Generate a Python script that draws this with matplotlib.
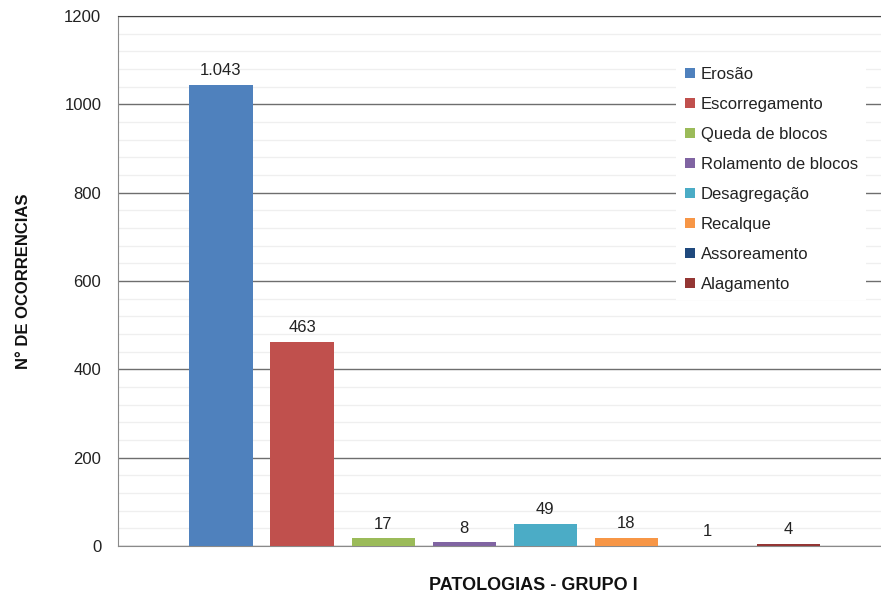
import matplotlib.pyplot as plt
from matplotlib.ticker import MultipleLocator

plt.rcParams['font.family'] = ['Liberation Sans', 'DejaVu Sans']

# Dados
categorias = ['Erosão', 'Escorregamento', 'Queda de blocos', 'Rolamento de blocos',
              'Desagregação', 'Recalque', 'Assoreamento', 'Alagamento']
ocorrencias = [1043, 463, 17, 8, 49, 18, 1, 4]
rotulos = ['1.043', '463', '17', '8', '49', '18', '1', '4']
cores = ['#4F81BD', '#C0504D', '#9BBB59', '#8064A2', '#4BACC6', '#F79646',
         '#1F497D', '#943634']

fig = plt.figure(figsize=(8.81, 5.98), dpi=100)
ax = fig.add_axes([118 / 881, 1 - 546 / 598, 1 - 118 / 881, (546 - 16) / 598])

x = list(range(len(categorias)))
barras = ax.bar(x, ocorrencias, width=0.78, color=cores, label=categorias, zorder=3)
for b, txt in zip(barras, rotulos):
    ax.annotate(txt, (b.get_x() + b.get_width() / 2, b.get_height()),
                xytext=(0, 5), textcoords='offset points', ha='center', va='bottom',
                fontsize=12, color='#222222')

ax.set_xlim(-1.27, 8.14)
ax.set_ylim(0, 1200)
ax.yaxis.set_major_locator(MultipleLocator(200))
ax.yaxis.set_minor_locator(MultipleLocator(40))
ax.set_xticks([])
ax.tick_params(axis='y', which='both', length=0, labelsize=12, pad=12, labelcolor='#222222')
ax.grid(axis='y', which='major', color='#6e6e6e', linewidth=1.0, zorder=1)
ax.grid(axis='y', which='minor', color='#efefef', linewidth=0.9, zorder=0)
ax.set_axisbelow(True)

for s in ['left', 'bottom']:
    ax.spines[s].set_color('#8a8a8a')
ax.spines['top'].set_color('#444444')
ax.spines['right'].set_visible(False)

ax.set_ylabel('N° DE OCORRENCIAS', fontsize=12, fontweight='bold', color='#111111')
ax.yaxis.set_label_coords(-(118 - 31) / 763, 0.5)
ax.set_xlabel('PATOLOGIAS - GRUPO I', fontsize=13, fontweight='bold', color='#111111')
ax.xaxis.set_label_coords((533 - 118) / 763, -(577 - 546) / 530)

leg = ax.legend(loc='upper left', bbox_to_anchor=(668 / 881, 1 - 50 / 598),
                bbox_transform=fig.transFigure, fontsize=12, frameon=True,
                fancybox=False, framealpha=1, facecolor='white', edgecolor='none',
                handlelength=0.6, handleheight=0.6, handletextpad=0.35,
                labelspacing=0.9, borderpad=0.5)
for t in leg.get_texts():
    t.set_color('#222222')

fig.savefig('out.png', dpi=100)
